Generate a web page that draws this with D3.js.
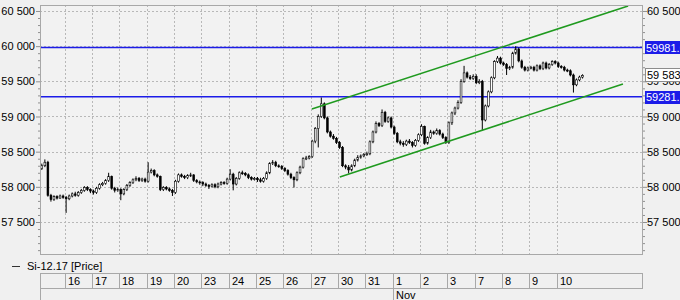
<!DOCTYPE html>
<html>
<head>
<meta charset="utf-8">
<script src="https://cdnjs.cloudflare.com/ajax/libs/d3/7.8.5/d3.min.js"></script>
<style>
body{margin:0;background:#f0f0f0;}
svg{display:block;font-family:"Liberation Sans",Arial,sans-serif;font-size:11px;}
</style>
</head>
<body>
<svg id="chart" width="680" height="300"></svg>
<script>
// Si-12.17 hourly candles, 13 Oct - 10 Nov 2017

var dayLabels  = ["", "16", "17", "18", "19", "20", "23", "24", "25", "26", "27", "30", "31", "1", "2", "3", "7", "8", "9", "10"];
var dayCandles = [8, 9, 9, 9, 9, 9, 9, 9, 9, 9, 9, 9, 9, 9, 9, 9, 9, 9, 9, 9];
var monthDay = "1", monthLabel = "Nov";

var firstOpen = 58260;
var closes = [
    58300, 58350, 57880, 57820, 57860, 57840, 57870, 57850,
    57830, 57870, 57900, 57880, 57920, 57950, 57990, 57960, 57940,
    57920, 57980, 58030, 58050, 58090, 58150, 57980, 57950, 57960,
    57900, 57960, 58020, 58060, 58100, 58120, 58090, 58110, 58080,
    58210, 58230, 58170, 58150, 57960, 57990, 57970, 57950, 57920,
    58080, 58170, 58150, 58130, 58160, 58170, 58090, 58070, 58060,
    58040, 58020, 58010, 58030, 58000, 58040, 58060, 58050, 58110,
    58180, 58040, 58120, 58200, 58190, 58170, 58130, 58110, 58120,
    58100, 58080, 58120, 58200, 58330, 58350, 58300, 58290, 58260,
    58230, 58180, 58130, 58100, 58200, 58280, 58400, 58410, 58430,
    58650, 58830, 59000, 59180, 58980, 58780, 58720, 58690, 58630,
    58560, 58300, 58280, 58240, 58300, 58380, 58420, 58440, 58460,
    58470, 58640, 58780, 58900, 58870, 59060, 58930, 58980, 58850,
    58760, 58640, 58620, 58600, 58650, 58630, 58590, 58660, 58740,
    58860, 58620, 58700, 58780, 58760, 58800, 58750, 58700, 58630,
    58910, 59050, 59120, 59200, 59500, 59620, 59560, 59540, 59570,
    59480, 59500, 58950, 59150, 59350, 59550, 59780, 59830, 59760,
    59740, 59680, 59700, 59900, 59960, 59790, 59700, 59660, 59690,
    59700, 59660, 59720, 59680, 59760, 59690, 59740, 59780, 59760,
    59710, 59700, 59660, 59650, 59590, 59450, 59520, 59560, 59583
];
var highs = [
    58330, 58390, 58370, 57900, 57880, 57880, 57890, 57890,
    57870, 57890, 57920, 57930, 57940, 57970, 58010, 58010, 57980,
    57960, 58000, 58050, 58070, 58110, 58200, 58160, 58000, 57990,
    57980, 57980, 58040, 58080, 58120, 58150, 58140, 58130, 58130,
    58350, 58260, 58250, 58190, 58160, 58010, 58010, 57990, 57970,
    58100, 58190, 58190, 58170, 58180, 58200, 58180, 58110, 58090,
    58080, 58060, 58040, 58050, 58050, 58060, 58080, 58080, 58130,
    58250, 58200, 58140, 58220, 58230, 58210, 58190, 58150, 58140,
    58140, 58130, 58140, 58220, 58350, 58380, 58370, 58320, 58310,
    58280, 58250, 58200, 58150, 58220, 58300, 58420, 58440, 58450,
    58670, 58850, 59030, 59270, 59200, 59000, 58800, 58750, 58710,
    58650, 58580, 58320, 58310, 58320, 58400, 58450, 58460, 58480,
    58500, 58660, 58800, 58930, 58920, 59100, 59080, 59000, 59000,
    58870, 58780, 58670, 58650, 58670, 58680, 58650, 58680, 58760,
    58890, 58870, 58720, 58810, 58800, 58830, 58820, 58770, 58720,
    58930, 59070, 59140, 59230, 59530, 59720, 59640, 59590, 59600,
    59600, 59530, 59520, 59170, 59370, 59570, 59800, 59860, 59850,
    59780, 59760, 59720, 59920, 60000, 59980, 59810, 59720, 59710,
    59720, 59720, 59740, 59740, 59780, 59780, 59760, 59800, 59800,
    59780, 59730, 59720, 59680, 59670, 59610, 59540, 59580, 59600
];
var lows = [
    58240, 58280, 57860, 57790, 57800, 57820, 57830, 57830,
    57630, 57810, 57850, 57860, 57860, 57900, 57930, 57940, 57910,
    57890, 57900, 57960, 58010, 58030, 58070, 57960, 57920, 57930,
    57810, 57880, 57940, 58000, 58040, 58080, 58070, 58070, 58060,
    58060, 58190, 58150, 58130, 57940, 57940, 57950, 57930, 57870,
    57900, 58060, 58130, 58110, 58110, 58140, 58070, 58050, 58030,
    58010, 58000, 57970, 57990, 57980, 57980, 58020, 58030, 58030,
    58090, 57950, 58020, 58100, 58170, 58150, 58110, 58090, 58090,
    58070, 58060, 58060, 58100, 58180, 58310, 58280, 58270, 58240,
    58210, 58160, 58110, 57990, 58080, 58180, 58260, 58380, 58390,
    58410, 58620, 58560, 58980, 58960, 58760, 58700, 58670, 58610,
    58540, 58280, 58250, 58190, 58220, 58280, 58360, 58400, 58420,
    58440, 58450, 58620, 58760, 58850, 58850, 58910, 58910, 58830,
    58740, 58620, 58590, 58570, 58580, 58610, 58560, 58570, 58640,
    58720, 58600, 58600, 58680, 58740, 58740, 58730, 58680, 58610,
    58610, 58880, 59020, 59100, 59180, 59480, 59540, 59520, 59520,
    59460, 59460, 58800, 58930, 59130, 59330, 59530, 59760, 59740,
    59720, 59590, 59660, 59680, 59880, 59770, 59680, 59640, 59640,
    59670, 59640, 59640, 59660, 59660, 59670, 59670, 59720, 59740,
    59690, 59680, 59640, 59630, 59570, 59340, 59430, 59500, 59540
];

var yTicks = [57500, 58000, 58500, 59000, 59500, 60000, 60500];
var levels = [59981.0, 59281.7];
var levelLabels = ["59981.0", "59281.7"];
var lastPrice = 59583, lastLabel = "59 583";
// trend channel, [candle index, price]
var channelUp = [[89.4, 59107], [193.5, 60571]];
var channelDn = [[98.6, 58140], [191.8, 59462]];
var legendText = "Si-12.17 [Price]";


var svg = d3.select("#chart"),
    plot = {left: 40, right: 643, top: 5, bottom: 255};

var x = d3.scaleLinear().domain([-0.1, 198.4]).range([plot.left, plot.right]),
    y = d3.scaleLinear().domain([57031, 60585]).range([plot.bottom, plot.top]);

var candles = closes.map(function(c, i) {
    return {i: i, o: i ? closes[i - 1] : firstOpen, h: highs[i], l: lows[i], c: c};
});

// first candle index of every day
var dayStart = [], acc = 0;
dayCandles.forEach(function(n) { dayStart.push(acc); acc += n; });

var fmt = function(v) { return d3.format(",")(v).replace(/,/g, " "); };

svg.append("defs").append("clipPath")
    .attr("id", "clip")
    .append("rect")
    .attr("x", plot.left).attr("y", plot.top)
    .attr("width", plot.right - plot.left)
    .attr("height", plot.bottom - plot.top);

svg.append("rect")
    .attr("x", plot.left).attr("y", plot.top)
    .attr("width", plot.right - plot.left)
    .attr("height", plot.bottom - plot.top)
    .attr("fill", "#f2f2f2");

// grid
var grid = svg.append("g")
    .attr("stroke", "#b8b8b8")
    .attr("stroke-dasharray", "2,2")
    .attr("shape-rendering", "crispEdges");

grid.selectAll("line.h")
    .data(yTicks)
    .enter().append("line")
    .attr("x1", plot.left).attr("x2", plot.right)
    .attr("y1", function(d) { return Math.round(y(d)) + 0.5; })
    .attr("y2", function(d) { return Math.round(y(d)) + 0.5; });

grid.selectAll("line.v")
    .data(dayStart.slice(1))
    .enter().append("line")
    .attr("y1", plot.top).attr("y2", plot.bottom)
    .attr("x1", function(d) { return Math.round(x(d)) + 0.5; })
    .attr("x2", function(d) { return Math.round(x(d)) + 0.5; });

// horizontal levels
svg.selectAll("line.level")
    .data(levels)
    .enter().append("line")
    .attr("x1", plot.left).attr("x2", plot.right)
    .attr("y1", function(d) { return y(d); })
    .attr("y2", function(d) { return y(d); })
    .attr("stroke", "#1c1ce8")
    .attr("stroke-width", 1.6);

// candles
var cg = svg.append("g").attr("clip-path", "url(#clip)");

cg.selectAll("line.wick")
    .data(candles)
    .enter().append("line")
    .attr("x1", function(d) { return x(d.i + 0.5); })
    .attr("x2", function(d) { return x(d.i + 0.5); })
    .attr("y1", function(d) { return y(d.h); })
    .attr("y2", function(d) { return y(d.l); })
    .attr("stroke", "#000");

cg.selectAll("rect.body")
    .data(candles)
    .enter().append("rect")
    .attr("x", function(d) { return x(d.i + 0.5) - 0.9; })
    .attr("width", 1.8)
    .attr("y", function(d) { return y(Math.max(d.o, d.c)); })
    .attr("height", function(d) { return Math.max(1, Math.abs(y(d.o) - y(d.c))); })
    .attr("fill", function(d) { return d.c >= d.o ? "#fff" : "#000"; })
    .attr("stroke", "#000")
    .attr("stroke-width", 0.6);

// channel
var chLine = d3.line()
    .x(function(d) { return x(d[0]); })
    .y(function(d) { return y(d[1]); });

svg.selectAll("path.channel")
    .data([channelUp, channelDn])
    .enter().append("path")
    .attr("d", chLine)
    .attr("fill", "none")
    .attr("stroke", "#1f9a1f")
    .attr("stroke-width", 1.5);

// frame
svg.append("rect")
    .attr("x", plot.left + 0.5).attr("y", plot.top + 0.5)
    .attr("width", plot.right - plot.left - 1)
    .attr("height", plot.bottom - plot.top - 1)
    .attr("fill", "none")
    .attr("stroke", "#a8a8a8");

// y axes
var minor = d3.range(57100, 60586, 100).filter(function(v) { return v % 500; });

function styleAxis(g) {
    g.select(".domain").remove();
    g.selectAll("line").attr("stroke", "#909090");
    g.selectAll("text").attr("fill", "#000").style("font-size", "11px")
        .style("font-family", "'Liberation Sans', Arial, sans-serif");
}

// right-hand labels hidden under a level tag are left out
var rightTicks = yTicks.filter(function(v) {
    return !levels.some(function(l) { return Math.abs(y(l) - y(v)) < 8; });
});

[["left", plot.left, d3.axisLeft, yTicks], ["right", plot.right, d3.axisRight, rightTicks]].forEach(function(a) {
    svg.append("g")
        .attr("transform", "translate(" + a[1] + ",0)")
        .call(a[2](y).tickValues(minor).tickSize(2).tickFormat(""))
        .call(styleAxis);
    svg.append("g")
        .attr("transform", "translate(" + a[1] + ",0)")
        .call(a[2](y).tickValues(a[3]).tickSize(4).tickPadding(a[0] == "left" ? 1 : 0).tickFormat(fmt))
        .call(styleAxis);
});

// last price box
svg.append("rect")
    .attr("x", 645.5).attr("y", Math.round(y(lastPrice)) - 6.5)
    .attr("width", 40).attr("height", 13)
    .attr("fill", "#fff")
    .attr("stroke", "#8c8c8c");
svg.append("text")
    .attr("x", 647).attr("y", y(lastPrice))
    .attr("dy", "0.35em")
    .text(lastLabel);

// level labels
var lv = svg.selectAll("g.lvl")
    .data(levels)
    .enter().append("g");
lv.append("rect")
    .attr("x", 645).attr("width", 40).attr("height", 13)
    .attr("y", function(d) { return Math.round(y(d)) - 6; })
    .attr("fill", "#1c1ce8");
lv.append("text")
    .attr("x", 646)
    .attr("y", function(d) { return y(d); })
    .attr("dy", "0.37em")
    .attr("fill", "#fff")
    .text(function(d, i) { return levelLabels[i]; });

// legend
svg.append("line")
    .attr("x1", 12).attr("x2", 20)
    .attr("y1", 266.5).attr("y2", 266.5)
    .attr("stroke", "#333");
svg.append("text")
    .attr("x", 27).attr("y", 270)
    .text(legendText);

// date band
var band = svg.append("g").attr("shape-rendering", "crispEdges");
band.append("line")
    .attr("x1", plot.left).attr("x2", plot.right)
    .attr("y1", 273.5).attr("y2", 273.5)
    .attr("stroke", "#a8a8a8");
band.append("line")
    .attr("x1", plot.left).attr("x2", plot.right)
    .attr("y1", 288.5).attr("y2", 288.5)
    .attr("stroke", "#a8a8a8");
band.append("line")
    .attr("x1", plot.left + 0.5).attr("x2", plot.left + 0.5)
    .attr("y1", 273).attr("y2", 300)
    .attr("stroke", "#a8a8a8");
band.append("line")
    .attr("x1", plot.right - 0.5).attr("x2", plot.right - 0.5)
    .attr("y1", 273).attr("y2", 289)
    .attr("stroke", "#a8a8a8");

var days = dayLabels.map(function(l, k) { return {label: l, start: dayStart[k]}; }).slice(1);

band.selectAll("line.day")
    .data(days)
    .enter().append("line")
    .attr("x1", function(d) { return Math.round(x(d.start)) + 0.5; })
    .attr("x2", function(d) { return Math.round(x(d.start)) + 0.5; })
    .attr("y1", 273)
    .attr("y2", function(d) { return d.label == monthDay ? 300 : 289; })
    .attr("stroke", "#a8a8a8");

svg.selectAll("text.day")
    .data(days)
    .enter().append("text")
    .attr("x", function(d) { return Math.round(x(d.start)) + 3; })
    .attr("y", 285)
    .text(function(d) { return d.label; });

var mday = days.filter(function(d) { return d.label == monthDay; })[0];
svg.append("text")
    .attr("x", Math.round(x(mday.start)) + 3)
    .attr("y", 299)
    .text(monthLabel);
</script>
</body>
</html>
